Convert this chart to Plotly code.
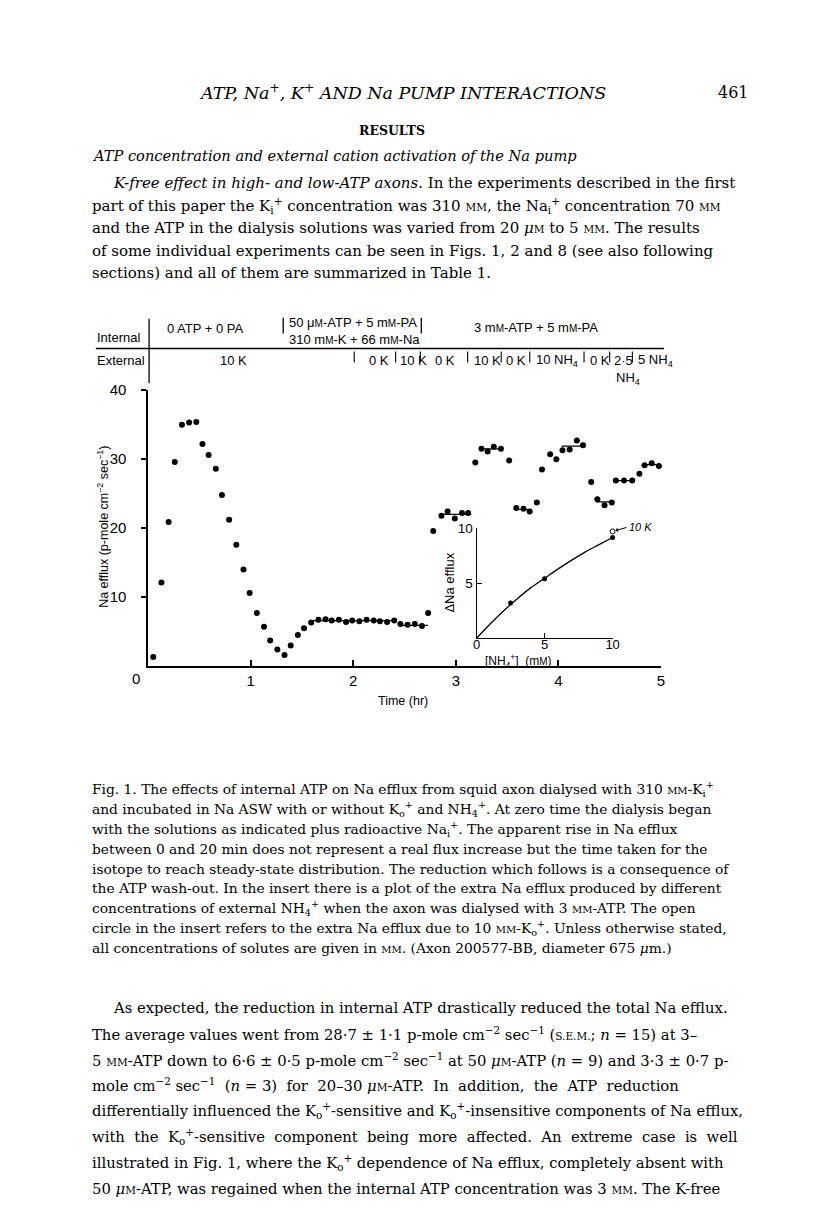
import plotly.graph_objects as go

# ---------------- data ----------------
time_hr = [0.05, 0.13, 0.20, 0.26, 0.33, 0.40, 0.47, 0.53, 0.59, 0.66,
           0.72, 0.79, 0.86, 0.93, 0.99, 1.06, 1.13, 1.19, 1.26, 1.33,
           1.39, 1.46, 1.52, 1.59, 1.66, 1.73, 1.79, 1.86, 1.93, 1.99,
           2.06, 2.13, 2.20, 2.26, 2.33, 2.40, 2.46, 2.53, 2.60, 2.67,
           2.73, 2.78, 2.86, 2.92, 2.99, 3.06, 3.12, 3.19, 3.25, 3.31,
           3.37, 3.44, 3.52, 3.59, 3.66, 3.72, 3.79, 3.84, 3.92, 3.98,
           4.04, 4.11, 4.18, 4.24, 4.32, 4.38, 4.45, 4.52, 4.56, 4.64,
           4.72, 4.79, 4.84, 4.91, 4.98, 5.05]
na_efflux = [1.3, 12.1, 20.9, 29.6, 35.0, 35.3, 35.4, 32.2, 30.6, 28.6,
             24.8, 21.2, 17.6, 14.0, 10.6, 7.7, 5.7, 3.7, 2.4, 1.6,
             3.0, 4.5, 5.5, 6.3, 6.7, 6.8, 6.6, 6.7, 6.4, 6.6,
             6.5, 6.7, 6.6, 6.5, 6.4, 6.6, 6.1, 6.0, 6.1, 5.8,
             7.7, 19.6, 21.8, 22.4, 21.4, 22.2, 22.2, 29.5, 31.5, 31.1,
             31.8, 31.5, 29.8, 22.9, 22.8, 22.4, 23.7, 28.5, 30.7, 30.0,
             31.3, 31.4, 32.7, 32.0, 26.7, 24.2, 23.3, 23.7, 26.9, 26.9,
             26.9, 27.9, 29.1, 29.4, 29.0, 29.4]

# mean lines drawn through steady-state groups
seg_start = [1.58, 2.44, 2.85, 3.23, 3.58, 4.03, 4.37, 4.56, 4.83]
seg_end = [2.41, 2.73, 3.15, 3.46, 3.74, 4.26, 4.54, 4.74, 5.06]
seg_level = [6.6, 5.9, 22.0, 31.5, 22.7, 31.9, 23.8, 26.9, 29.2]

x_ticks = [0, 1, 2, 3, 4, 5]
y_ticks = [10, 20, 30, 40]

# insert
nh4_conc = [2.5, 5, 10]
delta_na = [3.2, 5.4, 9.15]
k_conc = [10]
delta_na_k = [9.7]
fit_x = [0, 1, 2, 3, 4, 5, 6, 7, 8, 9, 10]
fit_y = [0, 1.3, 2.5, 3.6, 4.6, 5.45, 6.3, 7.1, 7.85, 8.5, 9.15]
inset_x_ticks = [0, 5, 10]
inset_y_ticks = [5, 10]

# ---------------- page geometry helpers ----------------
# the page body has an 8 px margin, so the figure is 800x1196 and
# page pixel coordinates are shifted by 8 px
PAGE_OFF = 8
W, H = 816 - 2 * PAGE_OFF, 1212 - 2 * PAGE_OFF
SERIF = "DejaVu Serif, Liberation Serif, serif"
SANS = "Liberation Sans, Arial, sans-serif"


def px(x):
    return (x - PAGE_OFF) / W


def py(y):
    return 1 - (y - PAGE_OFF) / H


def sc(s, fs):
    return f"<span style='font-size:{fs}px'>{s}</span>"


fig = go.Figure()

# main scatter
fig.add_trace(go.Scatter(x=time_hr, y=na_efflux, mode="markers",
                         marker=dict(color="black", size=6),
                         cliponaxis=False, showlegend=False,
                         xaxis="x", yaxis="y"))
for s, e, lv in zip(seg_start, seg_end, seg_level):
    fig.add_trace(go.Scatter(x=[s, e], y=[lv, lv], mode="lines",
                             line=dict(color="black", width=1.2),
                             cliponaxis=False, showlegend=False,
                             xaxis="x", yaxis="y"))

# insert
fig.add_trace(go.Scatter(x=fit_x, y=fit_y, mode="lines",
                         line=dict(color="black", width=1.3, shape="spline"),
                         showlegend=False, xaxis="x2", yaxis="y2"))
fig.add_trace(go.Scatter(x=nh4_conc, y=delta_na, mode="markers",
                         marker=dict(color="black", size=5),
                         cliponaxis=False, showlegend=False,
                         xaxis="x2", yaxis="y2"))
fig.add_trace(go.Scatter(x=k_conc, y=delta_na_k, mode="markers",
                         marker=dict(color="white", size=5, symbol="circle",
                                     line=dict(color="black", width=1)),
                         cliponaxis=False, showlegend=False,
                         xaxis="x2", yaxis="y2"))

axis_common = dict(showgrid=False, zeroline=False, showline=True,
                   linecolor="black", tickcolor="black", color="black")

fig.update_layout(
    width=W, height=H, margin=dict(l=0, r=0, t=0, b=0),
    paper_bgcolor="white", plot_bgcolor="rgba(0,0,0,0)",
    xaxis=dict(domain=[px(146), px(666)], range=[0, 5], anchor="y",
               tickvals=x_ticks, ticktext=["", "1", "2", "3", "4", "5"],
               ticks="inside", ticklen=6, linewidth=1.5,
               tickwidth=1.5, tickfont=dict(family=SANS, size=15, color="black"),
               **axis_common),
    yaxis=dict(domain=[py(662), py(384)], range=[0, 40], anchor="x",
               tickvals=y_ticks, ticks="outside", ticklen=5, linewidth=1.5,
               tickwidth=1.5, ticklabelstandoff=12,
               tickfont=dict(family=SANS, size=15, color="black"),
               **axis_common),
    xaxis2=dict(domain=[px(479), px(617)], range=[0, 10], anchor="y2",
                tickvals=inset_x_ticks, ticks="inside", ticklen=5,
                linewidth=1.3, tickwidth=1.3, ticklabelstandoff=-6,
                tickfont=dict(family=SANS, size=13, color="black"),
                **axis_common),
    yaxis2=dict(domain=[py(634), py(523)], range=[0, 10], anchor="x2",
                tickvals=inset_y_ticks, ticks="inside", ticklen=5,
                linewidth=1.3, tickwidth=1.3,
                tickfont=dict(family=SANS, size=13.5, color="black"),
                **axis_common),
)

ann = []


def text(x, y, s, size, family=SERIF, xanchor="left", angle=0):
    ann.append(dict(x=px(x), y=py(y), xref="paper", yref="paper", text=s,
                    showarrow=False, xanchor=xanchor, yanchor="middle",
                    textangle=angle,
                    font=dict(family=family, size=size, color="black")))


# page header
text(404, 84, "<i>ATP, Na<sup>+</sup>, K<sup>+</sup> AND Na PUMP INTERACTIONS</i>",
     17.5, xanchor="center")
text(757, 84, "461", 16, xanchor="right")
text(393, 122, "<b>RESULTS</b>", 12.5, xanchor="center")
text(87, 148, "<i>ATP concentration and external cation activation of the Na pump</i>", 14.6)

MM = sc("MM", 10.5)
uM = "<i>μ</i>" + sc("M", 10.5)
para = [
    (108, "<i>K-free effect in high- and low-ATP axons.</i> In the experiments described in the first"),
    (87, f"part of this paper the K<sub>i</sub><sup>+</sup> concentration was 310 {MM}, the Na<sub>i</sub><sup>+</sup> concentration 70 {MM}"),
    (87, f"and the ATP in the dialysis solutions was varied from 20 {uM} to 5 {MM}. The results"),
    (87, "of some individual experiments can be seen in Figs. 1, 2 and 8 (see also following"),
    (87, "sections) and all of them are summarized in Table 1."),
]
for i, (x0, s) in enumerate(para):
    text(x0, 175 + 22.8 * i, s, 15)

# figure header (condition table)
smm = "m" + sc("M", 10)
suM = "μ" + sc("M", 10)
text(92, 331, "Internal", 13, SANS)
text(163, 322, "0 ATP + 0 PA", 13, SANS)
text(287, 316, f"50 {suM}-ATP + 5 {smm}-PA", 13, SANS)
text(287, 333, f"310 {smm}-K + 66 {smm}-Na", 13, SANS)
text(474, 321, f"3 {smm}-ATP + 5 {smm}-PA", 13, SANS)
text(92, 354, "External", 13, SANS)
text(217, 354, "10 K", 13, SANS)
for x0, s in [(368, "0 K"), (399, "10 K"), (435, "0 K"), (474, "10 K"),
              (507, "0 K"), (537, "10 NH<sub>4</sub>"), (592, "0 K"),
              (616, "2·5"), (641, "5 NH<sub>4</sub>")]:
    text(x0, 354, s, 13, SANS)
text(618, 372, "NH<sub>4</sub>", 13, SANS)

# origin label of the time axis (set slightly left of the axis start)
text(134, 675, "0", 15, SANS, xanchor="center")

# axis titles
text(100, 522, "Na efflux (p-mole cm<sup>−2</sup> sec<sup>−1</sup>)", 12.5, SANS,
     xanchor="center", angle=-90)
text(404, 697, "Time (hr)", 12.5, SANS, xanchor="center")
text(452, 578, "ΔNa efflux", 13, SANS, xanchor="center", angle=-90)
text(522, 657, f"[NH<sub>4</sub><sup>+</sup>]  ({smm})", 12, SANS, xanchor="center")

# 10 K arrow label in the insert
ann.append(dict(x=10, y=9.7, xref="x2", yref="y2", text="<i>10 K</i>",
                showarrow=True, arrowhead=1, arrowsize=0.8, arrowwidth=1,
                arrowcolor="black", ax=14, ay=-4, xanchor="left",
                standoff=3, font=dict(family=SANS, size=11, color="black")))

# caption
cMM = sc("MM", 10)
cap = [
    f"Fig. 1. The effects of internal ATP on Na efflux from squid axon dialysed with 310 {cMM}-K<sub>i</sub><sup>+</sup>",
    "and incubated in Na ASW with or without K<sub>o</sub><sup>+</sup> and NH<sub>4</sub><sup>+</sup>. At zero time the dialysis began",
    "with the solutions as indicated plus radioactive Na<sub>i</sub><sup>+</sup>. The apparent rise in Na efflux",
    "between 0 and 20 min does not represent a real flux increase but the time taken for the",
    "isotope to reach steady-state distribution. The reduction which follows is a consequence of",
    "the ATP wash-out. In the insert there is a plot of the extra Na efflux produced by different",
    f"concentrations of external NH<sub>4</sub><sup>+</sup> when the axon was dialysed with 3 {cMM}-ATP. The open",
    f"circle in the insert refers to the extra Na efflux due to 10 {cMM}-K<sub>o</sub><sup>+</sup>. Unless otherwise stated,",
    f"all concentrations of solutes are given in {cMM}. (Axon 200577-BB, diameter 675 <i>μ</i>m.)",
]
for i, s in enumerate(cap):
    text(87, 786 + 20 * i, s, 13.8)

# body text
body = [
    (108, "As expected, the reduction in internal ATP drastically reduced the total Na efflux."),
    (87, f"The average values went from 28·7 ± 1·1 p-mole cm<sup>−2</sup> sec<sup>−1</sup> ({sc('S.E.M.', 10.5)}; <i>n</i> = 15) at 3–"),
    (87, f"5 {MM}-ATP down to 6·6 ± 0·5 p-mole cm<sup>−2</sup> sec<sup>−1</sup> at 50 {uM}-ATP (<i>n</i> = 9) and 3·3 ± 0·7 p-"),
    (87, f"mole cm<sup>−2</sup> sec<sup>−1</sup>  (<i>n</i> = 3)  for  20–30 {uM}-ATP.  In  addition,  the  ATP  reduction"),
    (87, "differentially influenced the K<sub>o</sub><sup>+</sup>-sensitive and K<sub>o</sub><sup>+</sup>-insensitive components of Na efflux,"),
    (87, "with  the  K<sub>o</sub><sup>+</sup>-sensitive  component  being  more  affected.  An  extreme  case  is  well"),
    (87, "illustrated in Fig. 1, where the K<sub>o</sub><sup>+</sup> dependence of Na efflux, completely absent with"),
    (87, f"50 {uM}-ATP, was regained when the internal ATP concentration was 3 {MM}. The K-free"),
]
for i, (x0, s) in enumerate(body):
    text(x0, 1006 + 26 * i, s, 14.8)

# ---------------- shapes for the condition table ----------------
shapes = []


def vline(x, y0, y1, w=1.3):
    shapes.append(dict(type="line", xref="paper", yref="paper",
                       x0=px(x), x1=px(x), y0=py(y0), y1=py(y1),
                       line=dict(color="black", width=w)))


def hline(x0, x1, y, w=1.5):
    shapes.append(dict(type="line", xref="paper", yref="paper",
                       x0=px(x0), x1=px(x1), y0=py(y), y1=py(y),
                       line=dict(color="black", width=w)))


vline(147, 312, 377)
hline(93, 669, 342)
vline(283, 311, 327)
vline(423, 311, 327)
for xb in [355, 397, 422, 470, 504, 533, 588, 614, 637]:
    vline(xb, 345, 356, 1.1)

fig.update_layout(annotations=ann, shapes=shapes)

fig.write_html("out.html")
